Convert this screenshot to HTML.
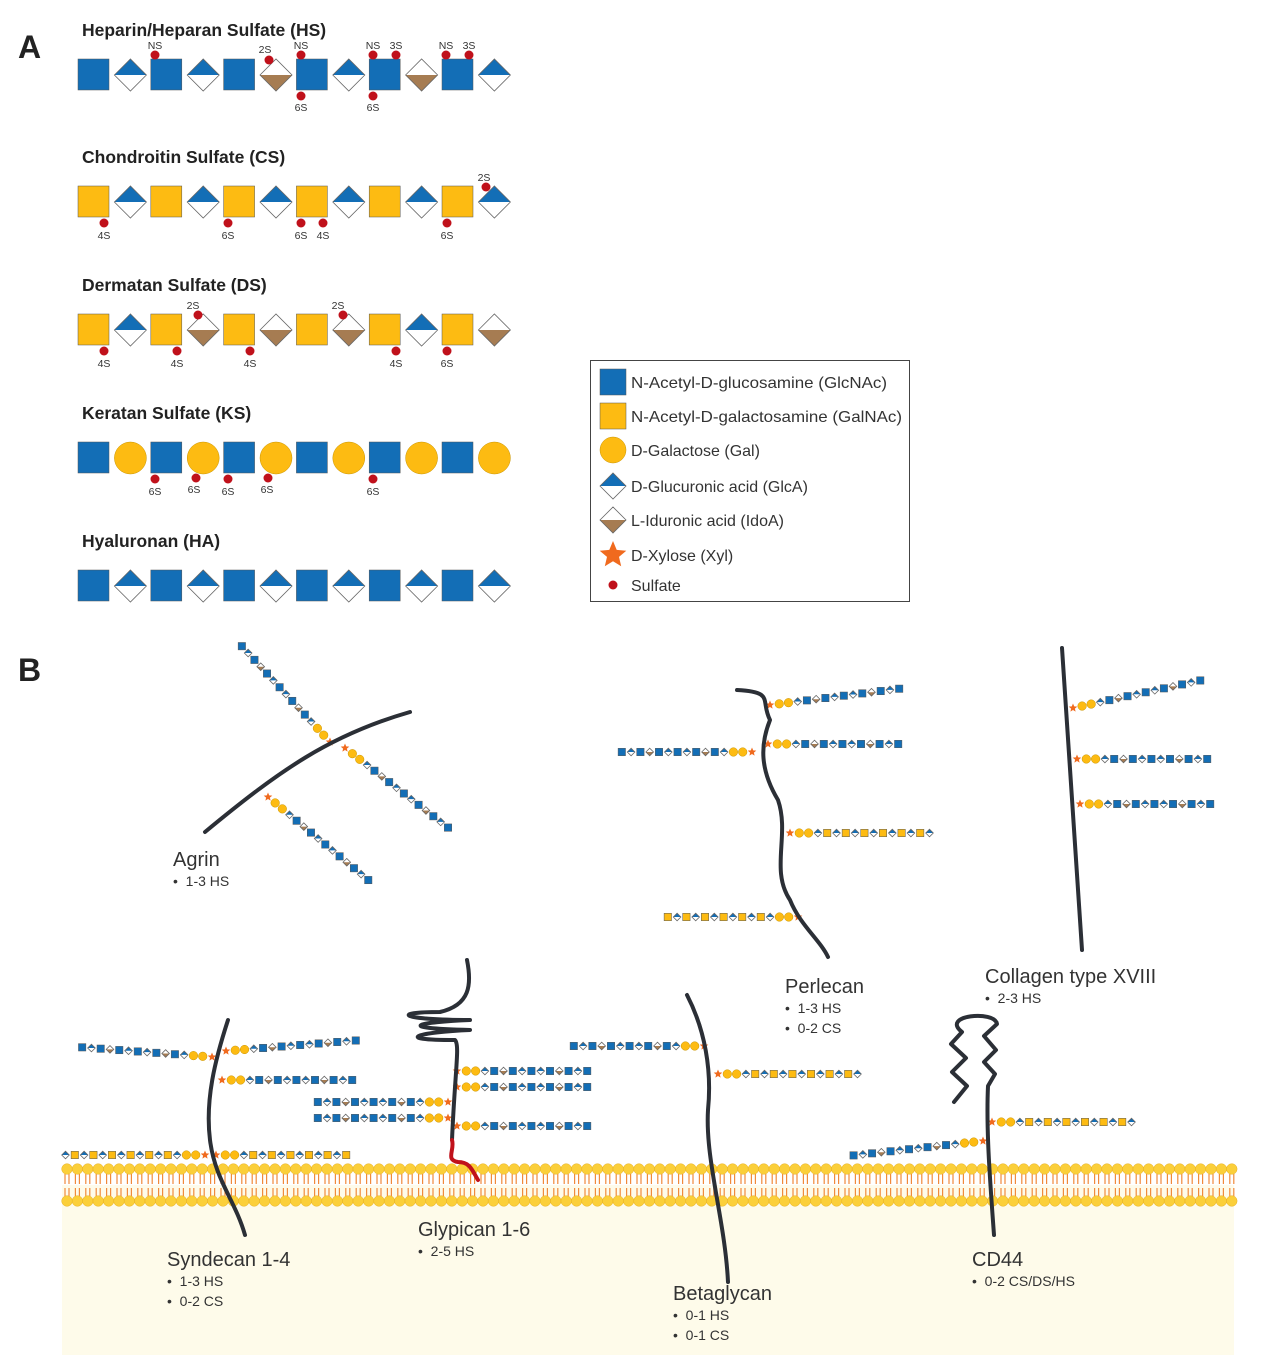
<!DOCTYPE html>
<html><head><meta charset="utf-8">
<style>
html,body{margin:0;padding:0;background:#fff;}
svg{display:block;font-family:"Liberation Sans",Arial,sans-serif;}
</style></head>
<body>
<svg id="s" width="1268" height="1358" viewBox="0 0 1268 1358" xmlns="http://www.w3.org/2000/svg">
<rect x="62" y="1185" width="1172" height="170" fill="#fefbea"/>
<g id="mem"></g>
<g id="sug"></g>
<g fill="#222">
<text x="18" y="58" font-size="32" font-weight="bold">A</text>
<text x="18" y="681" font-size="32" font-weight="bold">B</text>
<text x="82" y="36" font-size="17.5" font-weight="bold">Heparin/Heparan Sulfate (HS)</text>
<text x="82" y="163" font-size="17.5" font-weight="bold">Chondroitin Sulfate (CS)</text>
<text x="82" y="291" font-size="17.5" font-weight="bold">Dermatan Sulfate (DS)</text>
<text x="82" y="419" font-size="17.5" font-weight="bold">Keratan Sulfate (KS)</text>
<text x="82" y="547" font-size="17.5" font-weight="bold">Hyaluronan (HA)</text>
</g>
<g font-size="10.5" fill="#333" text-anchor="middle">
<text x="155" y="49">NS</text><text x="265" y="53">2S</text><text x="301" y="49">NS</text><text x="373" y="49">NS</text><text x="396" y="49">3S</text><text x="446" y="49">NS</text><text x="469" y="49">3S</text>
<text x="301" y="111">6S</text><text x="373" y="111">6S</text>
<text x="104" y="239">4S</text><text x="228" y="239">6S</text><text x="301" y="239">6S</text><text x="323" y="239">4S</text><text x="447" y="239">6S</text><text x="484" y="181">2S</text>
<text x="104" y="367">4S</text><text x="177" y="367">4S</text><text x="250" y="367">4S</text><text x="396" y="367">4S</text><text x="447" y="367">6S</text><text x="193" y="309">2S</text><text x="338" y="309">2S</text>
<text x="155" y="495">6S</text><text x="194" y="493">6S</text><text x="228" y="495">6S</text><text x="267" y="493">6S</text><text x="373" y="495">6S</text>
</g>
<rect x="590.5" y="360.5" width="319" height="241" fill="none" stroke="#444" stroke-width="1"/>
<g font-size="16" fill="#333">
<text x="631" y="388" textLength="256" lengthAdjust="spacingAndGlyphs">N-Acetyl-D-glucosamine (GlcNAc)</text>
<text x="631" y="422" textLength="271" lengthAdjust="spacingAndGlyphs">N-Acetyl-D-galactosamine (GalNAc)</text>
<text x="631" y="456">D-Galactose (Gal)</text>
<text x="631" y="492">D-Glucuronic acid (GlcA)</text>
<text x="631" y="526">L-Iduronic acid (IdoA)</text>
<text x="631" y="561">D-Xylose (Xyl)</text>
<text x="631" y="591">Sulfate</text>
</g>
<g id="core" fill="none" stroke="#2b2f36" stroke-width="4" stroke-linecap="round" stroke-linejoin="round">
<path d="M205,832 C280,770 330,735 410,712"/>
<path d="M737,690 C775,692 760,700 770,720 C760,745 760,770 778,800 C790,835 770,870 790,900 C800,925 820,940 828,957"/>
<path d="M1062,648 L1082,950"/>
<path d="M228,1020 C215,1060 205,1100 210,1140 C215,1180 235,1200 245,1235"/>
<path d="M467,960 C472,985 470,1005 440,1012 C390,1012 400,1020 470,1020 C420,1022 390,1028 470,1030 C420,1032 390,1040 455,1040 C460,1045 455,1070 452,1140"/>
<path d="M687,995 C705,1030 712,1070 708,1110 C705,1160 725,1220 728,1282"/>
<path d="M954,1102 L967,1086 L952,1072 L966,1058 L951,1044 L962,1032 C940,1015 995,1010 997,1024 L984,1036 L996,1050 L984,1062 L995,1074 L988,1086 C986,1130 990,1180 994,1235"/>
</g>
<path d="M452,1140 C455,1150 445,1160 458,1162 C470,1162 472,1170 478,1180" fill="none" stroke="#c0121b" stroke-width="4" stroke-linecap="round"/>
<g fill="#333">
<text x="173" y="866" font-size="20">Agrin</text><text x="173" y="886" font-size="14">•&#160;&#160;1-3 HS</text>
<text x="785" y="993" font-size="20">Perlecan</text><text x="785" y="1013" font-size="14">•&#160;&#160;1-3 HS</text><text x="785" y="1033" font-size="14">•&#160;&#160;0-2 CS</text>
<text x="985" y="983" font-size="20">Collagen type XVIII</text><text x="985" y="1003" font-size="14">•&#160;&#160;2-3 HS</text>
<text x="167" y="1266" font-size="20">Syndecan 1-4</text><text x="167" y="1286" font-size="14">•&#160;&#160;1-3 HS</text><text x="167" y="1306" font-size="14">•&#160;&#160;0-2 CS</text>
<text x="418" y="1236" font-size="20">Glypican 1-6</text><text x="418" y="1256" font-size="14">•&#160;&#160;2-5 HS</text>
<text x="673" y="1300" font-size="20">Betaglycan</text><text x="673" y="1320" font-size="14">•&#160;&#160;0-1 HS</text><text x="673" y="1340" font-size="14">•&#160;&#160;0-1 CS</text>
<text x="972" y="1266" font-size="20">CD44</text><text x="972" y="1286" font-size="14">•&#160;&#160;0-2 CS/DS/HS</text>
</g>
</svg>
<script>
var B="#136eb6",Y="#fdbb12",BR="#a67c52",R="#c0111b",O="#f06a1e";
var out=[];
function sq(x,y,s,c){out.push('<rect x="'+x+'" y="'+y+'" width="'+s+'" height="'+s+'" fill="'+c+'" stroke="#555" stroke-width="0.5"/>');}
function dia(cx,cy,h,top){
 var w=h;
 if(top){out.push('<polygon points="'+(cx-w)+','+cy+' '+cx+','+(cy-h)+' '+(cx+w)+','+cy+'" fill="'+B+'"/>');}
 else{out.push('<polygon points="'+(cx-w)+','+cy+' '+cx+','+(cy+h)+' '+(cx+w)+','+cy+'" fill="'+BR+'"/>');}
 out.push('<polygon points="'+(cx-w)+','+cy+' '+cx+','+(cy-h)+' '+(cx+w)+','+cy+' '+cx+','+(cy+h)+'" fill="none" stroke="#666" stroke-width="0.8"/>');
}
function circ(cx,cy,r){out.push('<circle cx="'+cx+'" cy="'+cy+'" r="'+r+'" fill="'+Y+'" stroke="#c99400" stroke-width="0.5"/>');}
function star(cx,cy,r){var p=[];for(var i=0;i<10;i++){var a=-Math.PI/2+i*Math.PI/5,rr=i%2?r*0.45:r;p.push((cx+rr*Math.cos(a)).toFixed(1)+','+(cy+rr*Math.sin(a)).toFixed(1));}out.push('<polygon points="'+p.join(' ')+'" fill="'+O+'"/>');}
function dot(x,y){out.push('<circle cx="'+x+'" cy="'+y+'" r="4.5" fill="'+R+'"/>');}
function row(seq,cy){for(var i=0;i<seq.length;i++){var x=78+i*36.4,c=seq[i];
 if(c=='B')sq(x,cy-16,31,B);else if(c=='Y')sq(x,cy-16,31,Y);else if(c=='b')dia(x+16,cy,16,true);else if(c=='i')dia(x+16,cy,16,false);else if(c=='G')circ(x+16,cy,16);}}
row("BbBbBiBbBiBb",75);row("YbYbYbYbYbYb",202);row("YbYiYiYiYbYi",330);row("BGBGBGBGBGBG",458);row("BbBbBbBbBbBb",586);
[[155,55],[269,60],[301,55],[373,55],[396,55],[446,55],[469,55],[301,96],[373,96],
 [104,223],[228,223],[301,223],[323,223],[447,223],[486,187],
 [104,351],[177,351],[250,351],[396,351],[447,351],[198,315],[343,315],
 [155,479],[196,478],[228,479],[268,478],[373,479]].forEach(function(d){dot(d[0],d[1]);});
sq(600,369,26,B);sq(600,403,26,Y);circ(613,450,13);dia(613,486,13,true);dia(613,520,13,false);star(613,555,14);dot(613,585);
function chain(x0,y0,x1,y1,type){
 var seq="xgg"+(type=='HS'?"bBiBbBbBiBbBiBbBb":"bYbYbYbYbYbYbYbYb");
 var dx=x1-x0,dy=y1-y0,L=Math.sqrt(dx*dx+dy*dy),ux=dx/L,uy=dy/L,st=9.3,n=Math.floor(L/st)+1;
 for(var i=0;i<n&&i<seq.length;i++){var x=x0+ux*i*st,y=y0+uy*i*st,c=seq[i];
  if(c=='x')star(x,y,4.5);else if(c=='g')circ(x,y,4.3);else if(c=='B')sq(x-3.7,y-3.7,7.4,B);else if(c=='Y')sq(x-3.7,y-3.7,7.4,Y);else if(c=='b')dia(x,y,3.8,true);else if(c=='i')dia(x,y,3.8,false);}
}
chain(330,742,238,642,'HS');chain(345,748,455,833,'HS');chain(268,797,373,884,'HS');
chain(770,705,905,688,'HS');chain(768,744,905,744,'HS');chain(752,752,615,752,'HS');chain(790,833,930,833,'CS');chain(798,917,662,917,'CS');
chain(1073,708,1207,679,'HS');chain(1077,759,1215,759,'HS');chain(1080,804,1218,804,'HS');
chain(226,1051,362,1040,'HS');chain(212,1057,78,1047,'HS');chain(222,1080,357,1080,'HS');chain(216,1155,354,1155,'CS');chain(205,1155,65,1155,'CS');
chain(457,1071,595,1071,'HS');chain(457,1087,595,1087,'HS');chain(448,1102,312,1102,'HS');chain(448,1118,312,1118,'HS');chain(457,1126,595,1126,'HS');
chain(704,1046,568,1046,'HS');chain(718,1074,858,1074,'CS');
chain(992,1122,1132,1122,'CS');chain(983,1141,848,1156,'HS');
document.getElementById('sug').innerHTML=out.join('');
var m=[];
for(var x=67;x<1234;x+=10.4){
 m.push('<path d="M'+(x-2)+',1174 L'+(x-2)+',1184 M'+(x+2)+',1174 L'+(x+2)+',1184 M'+(x-2)+',1188 L'+(x-2)+',1197 M'+(x+2)+',1188 L'+(x+2)+',1197" stroke="#f08a3c" stroke-width="1.2" fill="none"/>');
 m.push('<circle cx="'+x.toFixed(1)+'" cy="1169" r="5.3" fill="#fbcf3a" stroke="#e8b020" stroke-width="0.5"/>');
 m.push('<circle cx="'+x.toFixed(1)+'" cy="1201" r="5.3" fill="#fbcf3a" stroke="#e8b020" stroke-width="0.5"/>');
}
document.getElementById('mem').innerHTML=m.join('');
</script>
</body></html>
